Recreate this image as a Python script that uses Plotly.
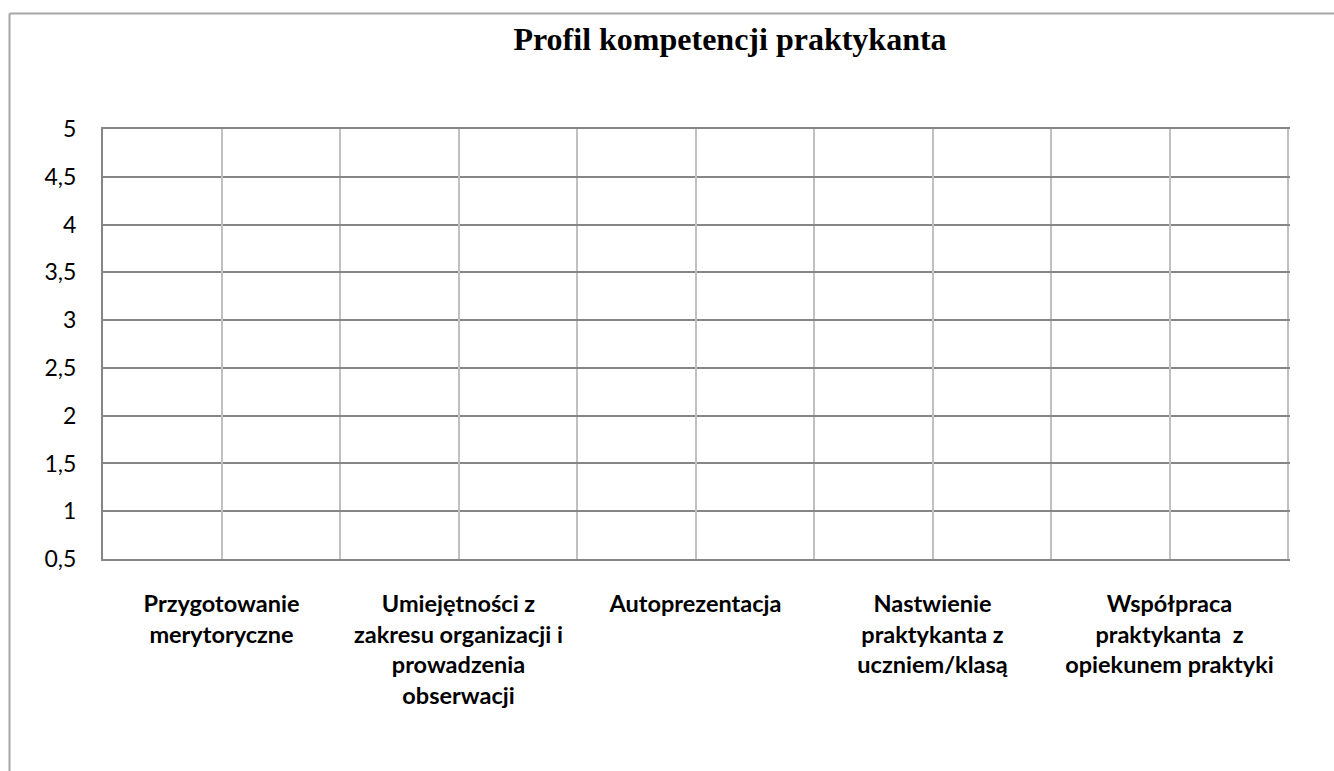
import plotly.graph_objects as go

title_text = "Profil kompetencji praktykanta"
categories = [
    "Przygotowanie<br>merytoryczne",
    "Umiejętności z<br>zakresu organizacji i<br>prowadzenia<br>obserwacji",
    "Autoprezentacja",
    "Nastwienie<br>praktykanta z<br>uczniem/klasą",
    "Współpraca<br>praktykanta  z<br>opiekunem praktyki",
]
values = [None, None, None, None, None]  # empty series (no scores filled in)
y_min, y_max, y_step = 0.5, 5, 0.5

W, H = 1334, 771
L, R, T, B = 103, 44, 129, 212
pw, ph = W - L - R, H - T - B
# small extension so the closing boundary gridline on the right is drawn
x_end = len(categories) * (pw / (1288 - 103)) - 0.5

def px_x(p):
    return (p - L) / pw

def px_y(p):
    return (H - B - p) / ph

fig = go.Figure()
fig.add_trace(go.Scatter(x=categories, y=values, mode="lines+markers",
                         xaxis="x", yaxis="y", showlegend=False, hoverinfo="skip"))
fig.add_trace(go.Scatter(x=categories, y=values, mode="lines+markers",
                         xaxis="x2", yaxis="y", showlegend=False, hoverinfo="skip"))

fam = "Lato, Carlito, Calibri, sans-serif"

fig.update_layout(
    width=W, height=H,
    margin=dict(l=L, r=R, t=T, b=B, pad=0),
    paper_bgcolor="white", plot_bgcolor="white",
    separators=", ",
    title=dict(text="<b>" + title_text + "</b>",
               font=dict(family="Liberation Serif, Times New Roman, serif", size=32, color="#000000"),
               x=px_x(730), xref="paper", xanchor="center",
               y=1 - 39 / H, yref="container", yanchor="middle"),
    xaxis=dict(type="category", categoryorder="array", categoryarray=categories,
               range=[-0.5, x_end], tickson="boundaries",
               showgrid=True, gridcolor="#c0c0c0", gridwidth=1.5,
               showline=True, mirror=True, linecolor="#868686", linewidth=2,
               ticks="", tickfont=dict(family=fam, size=23.5, color="#000000", weight="bold"),
               ticklabelstandoff=23, zeroline=False, fixedrange=True),
    xaxis2=dict(type="category", categoryorder="array", categoryarray=categories,
                range=[-0.5, x_end], overlaying="x", side="bottom",
                showgrid=True, gridcolor="#c0c0c0", gridwidth=1.5,
                showticklabels=False, ticks="", showline=False, zeroline=False, fixedrange=True),
    yaxis=dict(range=[y_min, y_max], dtick=y_step, tick0=y_min,
               showgrid=True, gridcolor="#868686", gridwidth=1.5,
               showline=True, linecolor="#868686", linewidth=2,
               ticks="", ticklabelstandoff=20,
               tickfont=dict(family=fam, size=23, color="#000000"),
               zeroline=False, fixedrange=True),
    shapes=[
        dict(type="line", xref="paper", yref="paper", x0=px_x(9.5), x1=px_x(W + 2),
             y0=px_y(13.5), y1=px_y(13.5), line=dict(color="#a6a6a6", width=2)),
        dict(type="line", xref="paper", yref="paper", x0=px_x(9.5), x1=px_x(9.5),
             y0=px_y(13.5), y1=px_y(H + 2), line=dict(color="#a6a6a6", width=2)),
    ],
)

fig.write_html("out.html", config={"displayModeBar": False},
               post_script="document.body.style.margin='0';document.body.style.overflow='hidden';")
